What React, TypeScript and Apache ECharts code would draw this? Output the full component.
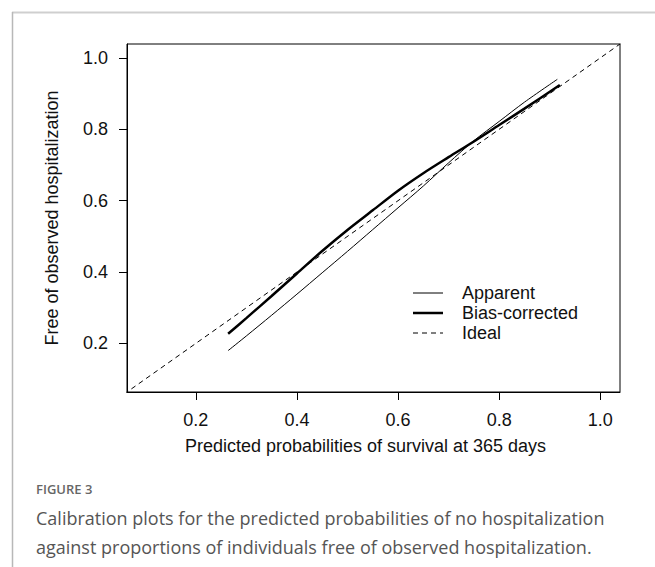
import React, { useEffect, useRef } from "react";
import * as echarts from "echarts";

const apparentX = [0.264, 0.30, 0.35, 0.40, 0.45, 0.50, 0.55, 0.60, 0.65, 0.70, 0.75, 0.80, 0.85, 0.915];
const apparentY = [0.180, 0.221, 0.279, 0.338, 0.398, 0.458, 0.519, 0.580, 0.641, 0.706, 0.768, 0.822, 0.876, 0.940];
const biasX = [0.264, 0.30, 0.35, 0.40, 0.45, 0.50, 0.55, 0.60, 0.65, 0.70, 0.75, 0.80, 0.85, 0.92];
const biasY = [0.227, 0.271, 0.333, 0.396, 0.459, 0.518, 0.573, 0.628, 0.677, 0.722, 0.766, 0.812, 0.858, 0.924];
const idealXY = [0, 1.2];
const tickValues = [0.2, 0.4, 0.6, 0.8, 1.0];
const axisMin = 0.064;
const axisMax = 1.039;

const seriesNames = ["Apparent", "Bias-corrected", "Ideal"];
const xTitle = "Predicted probabilities of survival at 365 days";
const yTitle = "Free of observed hospitalization";
const figLabel = "FIGURE 3";
const captionLines = [
  "Calibration plots for the predicted probabilities of no hospitalization",
  "against proportions of individuals free of observed hospitalization.",
];

const FONT = "'Liberation Sans', Arial, sans-serif";
const CAPFONT = "'Open Sans', sans-serif";

export default function App() {
  const ref = useRef<HTMLDivElement>(null);
  useEffect(() => {
    if (!ref.current) return;
    const chart = echarts.init(ref.current, null, { renderer: "svg" });
    const axisCommon = {
      type: "value" as const,
      min: axisMin,
      max: axisMax,
      splitLine: { show: false },
      axisLine: { show: true, lineStyle: { color: "#000", width: 1 } },
      axisTick: {
        show: true,
        inside: false,
        length: 8,
        customValues: tickValues,
        lineStyle: { color: "#000", width: 1 },
      },
      axisLabel: {
        customValues: tickValues,
        formatter: (v: number) => v.toFixed(1),
        color: "#111",
        fontFamily: FONT,
        fontSize: 18,
        margin: 19,
      },
      nameLocation: "middle" as const,
    };
    const legendRows = [293, 313, 333];
    const legendWidths = [1, 2.5, 1];
    const legendDash: any[] = [null, null, [5, 4]];
    const legendGraphics: any[] = [];
    seriesNames.forEach((name, i) => {
      legendGraphics.push({
        type: "line",
        silent: true,
        shape: { x1: 413, y1: legendRows[i], x2: 443, y2: legendRows[i] },
        style: { stroke: "#000", lineWidth: legendWidths[i], lineDash: legendDash[i] || undefined },
      });
      legendGraphics.push({
        type: "text",
        silent: true,
        x: 462,
        y: legendRows[i],
        style: {
          text: name,
          fill: "#111",
          font: `18px ${FONT}`,
          verticalAlign: "middle",
          align: "left",
        },
      });
    });
    chart.setOption({
      animation: false,
      backgroundColor: "#fff",
      grid: {
        left: 127,
        top: 44,
        right: 35,
        bottom: 175,
        show: true,
        borderColor: "#000",
        borderWidth: 1,
        containLabel: false,
      },
      xAxis: {
        ...axisCommon,
        name: xTitle,
        nameGap: 45,
        nameTextStyle: { color: "#111", fontFamily: FONT, fontSize: 18, padding: [0, 16, 0, 0] },
      },
      yAxis: {
        ...axisCommon,
        name: yTitle,
        nameGap: 66,
        nameTextStyle: { color: "#111", fontFamily: FONT, fontSize: 18 },
      },
      graphic: [
        { type: "line", shape: { x1: 12, y1: 12.5, x2: 655, y2: 12.5 }, style: { stroke: "#cfcfcf", lineWidth: 2 }, silent: true },
        { type: "line", shape: { x1: 12.5, y1: 12, x2: 12.5, y2: 567 }, style: { stroke: "#b8b8b8", lineWidth: 1.5 }, silent: true },
        ...legendGraphics,
        {
          type: "text",
          x: 36,
          y: 489,
          style: { text: figLabel, fill: "#666", font: `600 13px ${CAPFONT}`, verticalAlign: "middle" },
        },
        {
          type: "text",
          x: 36,
          y: 518,
          style: { text: captionLines[0], fill: "#555", font: `18px ${CAPFONT}`, verticalAlign: "middle" },
        },
        {
          type: "text",
          x: 36,
          y: 547,
          style: { text: captionLines[1], fill: "#555", font: `18px ${CAPFONT}`, verticalAlign: "middle" },
        },
      ],
      series: [
        {
          name: seriesNames[0],
          type: "line",
          symbol: "none",
          smooth: 0.3,
          data: apparentX.map((x, i) => [x, apparentY[i]]),
          lineStyle: { color: "#000", width: 1 },
          itemStyle: { color: "#000" },
        },
        {
          name: seriesNames[1],
          type: "line",
          symbol: "none",
          smooth: 0.3,
          data: biasX.map((x, i) => [x, biasY[i]]),
          lineStyle: { color: "#000", width: 2.5 },
          itemStyle: { color: "#000" },
        },
        {
          name: seriesNames[2],
          type: "line",
          symbol: "none",
          clip: true,
          data: idealXY.map((v) => [v, v]),
          lineStyle: { color: "#000", width: 1, type: [5, 4] },
          itemStyle: { color: "#000" },
        },
      ],
    });
    return () => chart.dispose();
  }, []);
  return (
    <div
      ref={ref}
      style={{ position: "absolute", left: 0, top: 0, width: 655, height: 567 }}
    />
  );
}
